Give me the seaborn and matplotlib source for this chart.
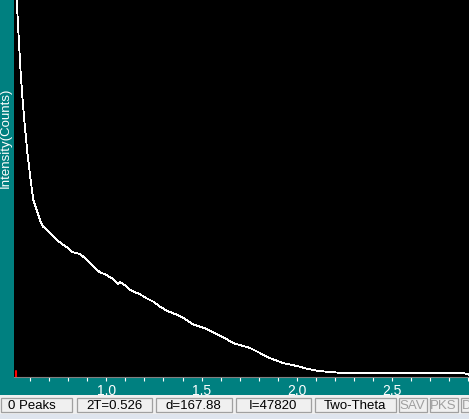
import numpy as np
import pandas as pd
import seaborn as sns
import matplotlib.pyplot as plt
from matplotlib.patches import Rectangle
from matplotlib.ticker import MultipleLocator

# scan data (two-theta in degrees, intensity in counts)
two_theta = [0.525, 0.530, 0.538, 0.544, 0.552, 0.561, 0.573, 0.586, 0.603, 0.617,
             0.652, 0.669, 0.705, 0.747, 0.768, 0.799, 0.820, 0.862, 0.879, 0.897,
             0.932, 0.967, 1.002, 1.037, 1.063, 1.072, 1.107, 1.124, 1.177, 1.212,
             1.247, 1.282, 1.317, 1.387, 1.456, 1.527, 1.579, 1.623, 1.665, 1.754,
             1.806, 1.843, 1.927, 2.016, 2.051, 2.104, 2.174, 2.261, 2.861, 2.872,
             2.882, 2.903]
counts = [48830, 48445, 44590, 42020, 38550, 35595, 32125, 28784, 25315, 22745,
          20175, 19315, 18505, 17475, 17090, 16575, 16060, 15805, 15460, 15035,
          14175, 13450, 13105, 12550, 11950, 12210, 11605, 11180, 10625, 10110,
          9680, 9035, 8520, 7840, 6770, 6170, 5525, 4975, 4370, 3725,
          3085, 2570, 1800, 1325, 1065, 810, 640, 475, 475, 555,
          450, 295]

tick_labels = ["1.0", "1.5", "2.0", "2.5"]
cursor_2t = 0.526
status_fields = ["0 Peaks", "2T=0.526", "d=167.88", "I=47820", "Two-Theta", "SAV", "PKS", "D"]

W, H = 469, 419
teal = "#008080"

sns.set_style("dark")
plt.rcParams["font.family"] = ["Liberation Sans", "DejaVu Sans"]

fig = plt.figure(figsize=(W / 100, H / 100), dpi=100, facecolor=teal)
ax = fig.add_axes([14 / W, 42 / H, 455 / W, 377 / H])
ax.set_facecolor("black")

df = pd.DataFrame({"2T": two_theta, "I": counts})
sns.lineplot(data=df, x="2T", y="I", ax=ax, color="white", linewidth=0.6,
             sort=False, estimator=None, antialiased=False)
ax.axvline(cursor_2t, ymin=0, ymax=6 / 377, color="red", linewidth=1.5, zorder=5)

ax.set_xlim(0.5157, 2.903)
ax.set_ylim(0, 48445)
ax.xaxis.set_major_locator(MultipleLocator(0.5))
ax.xaxis.set_minor_locator(MultipleLocator(0.1))
ax.set_xticks([1.0, 1.5, 2.0, 2.5])
ax.set_xticklabels(tick_labels)
ax.set_yticks([])
ax.tick_params(axis="x", which="both", direction="out", length=3.2, width=0.8,
               color="white", bottom=True, pad=1.5, labelsize=10, labelcolor="white")
ax.set_xlabel("")
ax.set_ylabel("")
ax.grid(False)
for side in ["top", "right", "left"]:
    ax.spines[side].set_visible(False)
ax.spines["bottom"].set_visible(True)
ax.spines["bottom"].set_color("#808080")
ax.spines["bottom"].set_linewidth(0.8)

fig.text(5.5 / W, 1 - 137.5 / H, "Intensity(Counts)", rotation=90, color="white",
         fontsize=9.5, ha="center", va="center")

# status bar
def px_rect(x0, y0, x1, y1, **kw):
    fig.patches.append(Rectangle((x0 / W, 1 - y1 / H), (x1 - x0) / W, (y1 - y0) / H,
                                 transform=fig.transFigure, figure=fig, **kw))

px_rect(0, 395, W, 414, facecolor="#f0f0f0", edgecolor="none")
px_rect(0, 414, W, H, facecolor="#dfe5ee", edgecolor="none")
boxes = [(0, 72), (76, 152), (155, 232), (235, 311), (314, 396), (398, 427), (429, 458), (460, 480)]
for (x0, x1), label in zip(boxes, status_fields):
    px_rect(x0 + 0.5, 398, x1, 412, facecolor="none", edgecolor="#a0a0a0", linewidth=0.9)
    col = "#a0a0a0" if label in ("SAV", "PKS", "D") else "black"
    if label == "0 Peaks":
        fig.text((x0 + 8) / W, 1 - 405.5 / H, label, fontsize=9.5, color=col,
                 ha="left", va="center")
    elif label == "D":
        fig.text((x0 + 2) / W, 1 - 405.5 / H, label, fontsize=9.5, color=col,
                 ha="left", va="center")
    else:
        fig.text((x0 + x1) / 2 / W, 1 - 405.5 / H, label, fontsize=9.5, color=col,
                 ha="center", va="center")

fig.savefig("out.png", dpi=100, facecolor=teal)
